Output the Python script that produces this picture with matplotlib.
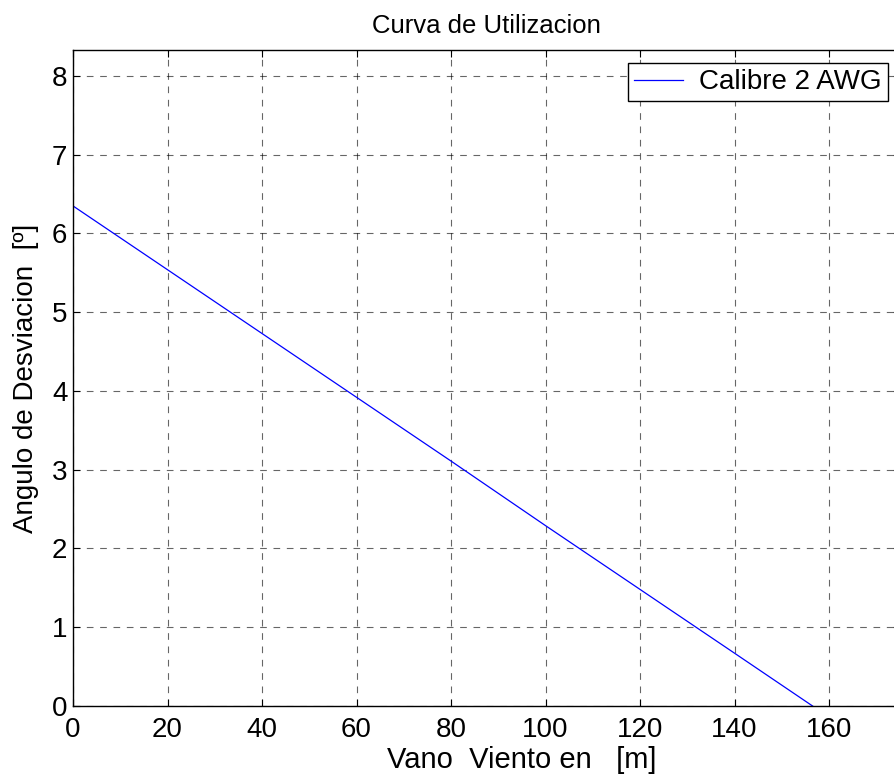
import matplotlib
matplotlib.use('Agg')
import matplotlib.pyplot as plt

# Datos
vano = [0, 20, 40, 60, 80, 100, 120, 140, 156.5]
angulo = [6.35, 5.54, 4.73, 3.92, 3.11, 2.29, 1.48, 0.67, 0.0]

plt.rcParams['font.family'] = ['Liberation Sans', 'DejaVu Sans']

fig = plt.figure(figsize=(8.95, 7.79), dpi=100)
ax = fig.add_axes([73 / 895, 73 / 779, 827 / 895, 656 / 779])

ax.plot(vano, angulo, color='blue', linewidth=0.9, label='Calibre 2 AWG')

ax.set_xlim(0, 175)
ax.set_ylim(0, 8.33)
ax.set_xticks(range(0, 161, 20))
ax.set_yticks(range(0, 9))

ax.grid(True, color='black', linestyle=(0, (6, 6)), linewidth=0.8, alpha=0.6)
ax.tick_params(direction='in', top=True, right=True, labelsize=20, length=5)
ax.tick_params(axis='x', pad=8)
ax.tick_params(axis='y', pad=4)
for s in ax.spines.values():
    s.set_linewidth(1.0)

ax.set_title('Curva de Utilizacion', fontsize=18.5, pad=12)
ax.set_xlabel('Vano  Viento en   [m]', fontsize=21)
ax.xaxis.set_label_coords(0.543, -0.061)
ax.set_ylabel('Angulo de Desviacion  [º]', fontsize=20, labelpad=9)

leg = ax.legend(loc='upper right', fontsize=20, fancybox=False, framealpha=1,
                edgecolor='black', handlelength=1.75, handletextpad=0.6,
                borderpad=0.22, borderaxespad=0,
                bbox_to_anchor=(0.9855, 0.980))
leg.get_frame().set_linewidth(1.0)

fig.savefig('out.png', dpi=100)
